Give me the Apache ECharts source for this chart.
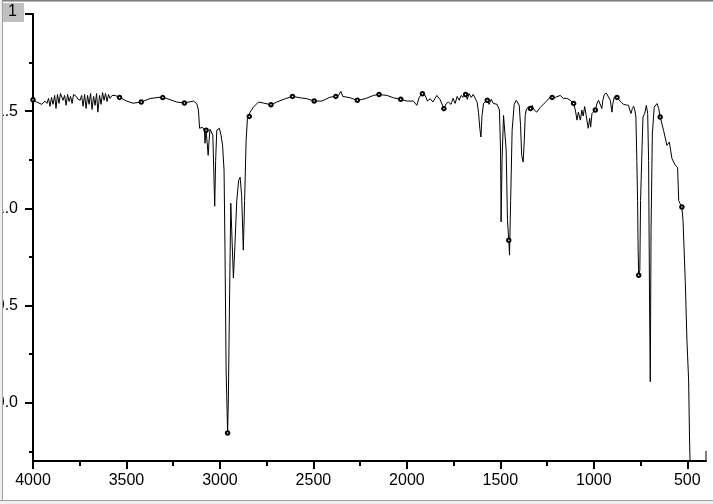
<!DOCTYPE html>
<html>
<head>
<meta charset="utf-8">
<script src="https://cdn.jsdelivr.net/npm/echarts@6/dist/echarts.min.js"></script>
<style>
  html, body { margin: 0; padding: 0; background: #fff; }
  #chart { width: 713px; height: 504px; }
</style>
</head>
<body>
<div id="chart"></div>
<script>
// wavenumber (cm-1), absorbance
var spectrum = [
  [4000,1.559],[3980,1.547],[3953,1.535],[3936,1.552],[3925,1.540],[3917,1.566],[3909,1.525],[3901,1.571],
  [3893,1.535],[3884,1.581],[3877,1.514],[3869,1.586],[3861,1.540],[3853,1.591],[3846,1.598],[3839,1.556],
  [3831,1.581],[3823,1.530],[3815,1.586],[3807,1.550],[3799,1.576],[3791,1.540],[3783,1.586],[3769,1.576],
  [3759,1.561],[3748,1.556],[3740,1.581],[3732,1.525],[3724,1.586],[3716,1.514],[3708,1.581],[3700,1.535],
  [3692,1.591],[3684,1.509],[3676,1.576],[3668,1.530],[3660,1.591],[3653,1.495],[3644,1.581],[3636,1.535],
  [3628,1.596],[3620,1.556],[3612,1.591],[3604,1.550],[3596,1.586],[3588,1.566],[3577,1.581],[3561,1.581],
  [3537,1.571],[3499,1.552],[3465,1.541],[3421,1.547],[3374,1.565],[3320,1.572],[3306,1.570],[3284,1.565],
  [3231,1.547],[3190,1.542],[3142,1.552],[3124,1.539],[3115,1.506],[3109,1.412],[3101,1.402],[3093,1.417],
  [3083,1.402],[3080,1.335],[3074,1.402],[3063,1.273],[3058,1.350],[3053,1.407],[3045,1.412],[3038,1.376],
  [3028,1.011],[3023,1.247],[3017,1.402],[3010,1.412],[3003,1.412],[2994,1.376],[2986,1.325],[2978,1.197],
  [2973,0.785],[2967,0.168],[2959,-0.156],[2955,0.014],[2948,0.579],[2942,1.026],[2937,0.887],[2928,0.641],
  [2921,0.785],[2910,1.040],[2900,1.143],[2892,1.160],[2884,1.067],[2875,0.785],[2868,1.040],[2860,1.350],
  [2853,1.463],[2843,1.473],[2839,1.494],[2821,1.521],[2794,1.547],[2768,1.542],[2727,1.533],[2696,1.547],
  [2651,1.564],[2612,1.576],[2571,1.569],[2535,1.564],[2496,1.552],[2455,1.552],[2411,1.572],[2380,1.576],
  [2366,1.581],[2353,1.602],[2343,1.576],[2304,1.569],[2265,1.556],[2223,1.564],[2179,1.581],[2149,1.586],
  [2107,1.581],[2072,1.569],[2033,1.561],[2000,1.552],[1965,1.552],[1947,1.530],[1934,1.572],[1917,1.590],
  [1902,1.581],[1890,1.552],[1875,1.564],[1861,1.547],[1840,1.581],[1822,1.559],[1802,1.513],[1790,1.539],
  [1778,1.547],[1764,1.535],[1753,1.566],[1742,1.540],[1731,1.576],[1720,1.556],[1710,1.581],[1699,1.571],
  [1686,1.586],[1677,1.561],[1667,1.591],[1656,1.571],[1645,1.586],[1635,1.576],[1624,1.545],[1617,1.494],
  [1610,1.412],[1604,1.367],[1598,1.478],[1590,1.540],[1581,1.530],[1570,1.556],[1560,1.535],[1549,1.561],
  [1538,1.540],[1528,1.550],[1517,1.535],[1505,1.506],[1499,1.300],[1496,0.930],[1491,1.247],[1483,1.478],
  [1474,1.488],[1469,1.300],[1462,0.939],[1455,0.836],[1451,0.759],[1445,1.040],[1437,1.402],[1426,1.535],
  [1415,1.556],[1407,1.556],[1399,1.530],[1392,1.427],[1386,1.273],[1378,1.238],[1372,1.350],[1367,1.478],
  [1362,1.506],[1351,1.521],[1339,1.514],[1330,1.530],[1319,1.506],[1305,1.495],[1287,1.519],[1260,1.545],
  [1233,1.572],[1223,1.571],[1206,1.571],[1180,1.581],[1164,1.566],[1144,1.566],[1126,1.556],[1108,1.540],
  [1099,1.506],[1090,1.454],[1083,1.494],[1072,1.454],[1064,1.506],[1057,1.475],[1049,1.524],[1041,1.478],
  [1030,1.412],[1022,1.463],[1017,1.418],[1010,1.488],[1002,1.495],[992,1.506],[983,1.540],[975,1.556],
  [966,1.550],[957,1.514],[952,1.556],[944,1.586],[933,1.593],[923,1.586],[912,1.556],[903,1.495],
  [899,1.535],[891,1.572],[876,1.571],[868,1.565],[853,1.545],[841,1.535],[827,1.532],[814,1.530],
  [808,1.506],[801,1.488],[794,1.514],[787,1.525],[781,1.506],[775,1.470],[770,1.247],[766,1.040],
  [763,0.785],[760,0.656],[754,0.681],[750,1.040],[742,1.316],[737,1.470],[728,1.488],[719,1.530],
  [712,1.488],[707,1.247],[702,0.528],[698,0.108],[694,0.887],[687,1.383],[677,1.521],[662,1.539],
  [653,1.514],[645,1.470],[627,1.401],[609,1.324],[596,1.341],[582,1.256],[564,1.221],[552,1.210],
  [546,1.040],[537,1.021],[529,1.007],[523,0.939],[511,0.630],[502,0.322],[493,0.117],[488,-0.192],
  [484,-0.35],[470,-1.2],[420,-1.2],[402,-0.8],[400,-0.248]
];
// points drawn with a small open circle (the ones hidden in the noisy part are left out)
var markerWn = [4000,3537,3421,3306,3190,3074,2959,2843,2727,2612,2496,2380,2265,
  2149,2033,1917,1802,1686,1570,1455,1339,1223,1108,992,876,760,645,529];

var xMajor = [500, 1000, 1500, 2000, 2500, 3000, 3500, 4000];
var xMinor = [750, 1250, 1750, 2250, 2750, 3250, 3750];
var yMajor = [0, 0.5, 1.0, 1.5, 2.0];
var yMinor = [-0.25, 0.25, 0.75, 1.25, 1.75];

var chart = echarts.init(document.getElementById('chart'));
var font = 'Arial, "Liberation Sans", sans-serif';

var option = {
  animation: false,
  backgroundColor: '#fff',
  grid: { left: 33, right: 7, top: 14, bottom: 43, containLabel: false, outerBoundsMode: 'none' },
  xAxis: [
    {
      type: 'value', inverse: true, min: 400, max: 4000,
      axisLine: { onZero: false, lineStyle: { color: '#000', width: 2 } },
      axisTick: { customValues: xMajor, length: 8, lineStyle: { color: '#000', width: 2 } },
      axisLabel: {
        customValues: xMajor, margin: 12, color: '#000', fontSize: 16, fontFamily: font,
        formatter: function (v) { return String(v); }
      },
      splitLine: { show: false }
    },
    {
      type: 'value', inverse: true, min: 400, max: 4000, position: 'bottom',
      axisLine: { show: false, onZero: false },
      axisTick: { customValues: xMinor, length: 5, lineStyle: { color: '#000', width: 2 } },
      axisLabel: { show: false },
      splitLine: { show: false }
    }
  ],
  yAxis: [
    {
      type: 'value', min: -0.3, max: 2.0,
      axisLine: { show: true, onZero: false, lineStyle: { color: '#000', width: 2 } },
      axisTick: { show: true, customValues: yMajor, length: 8, lineStyle: { color: '#000', width: 2 } },
      axisLabel: {
        customValues: yMajor, margin: 15, color: '#000', fontSize: 16, fontFamily: font,
        formatter: function (v) { return v.toFixed(1); }
      },
      splitLine: { show: false }
    },
    {
      type: 'value', min: -0.3, max: 2.0, position: 'left',
      axisLine: { show: false, onZero: false },
      axisTick: { show: true, customValues: yMinor, length: 4, lineStyle: { color: '#000', width: 2 } },
      axisLabel: { show: false },
      splitLine: { show: false }
    }
  ],
  series: [
    {
      type: 'line',
      data: spectrum,
      showAllSymbol: true,
      symbol: function (val) { return markerWn.indexOf(val[0]) >= 0 ? 'emptyCircle' : 'none'; },
      symbolSize: 3.5,
      itemStyle: { color: '#000', borderWidth: 0.8 },
      lineStyle: { color: '#000', width: 1 },
      clip: true
    }
  ],
  graphic: [
    { type: 'rect', z: 100, shape: { x: 0, y: 0, width: 713, height: 1 }, style: { fill: '#808080' } },
    { type: 'rect', z: 100, shape: { x: 0, y: 1, width: 713, height: 1 }, style: { fill: '#b4b4b4' } },
    { type: 'rect', z: 100, shape: { x: 0, y: 0, width: 2, height: 504 }, style: { fill: '#f0f0f0' } },
    { type: 'rect', z: 100, shape: { x: 2, y: 0, width: 1, height: 504 }, style: { fill: '#a0a0a0' } },
    { type: 'rect', z: 100, shape: { x: 0, y: 500, width: 713, height: 1 }, style: { fill: '#a0a0a0' } },
    { type: 'rect', z: 100, shape: { x: 0, y: 501, width: 713, height: 3 }, style: { fill: '#f0f0f0' } },
    { type: 'rect', z: 100, shape: { x: 3, y: 3, width: 21, height: 19 }, style: { fill: '#c0c0c0' } },
    {
      type: 'text', z: 101, left: 8, top: 4,
      style: { text: '1', fill: '#000', font: '16px ' + font }
    }
  ]
};

chart.setOption(option);
</script>
</body>
</html>
